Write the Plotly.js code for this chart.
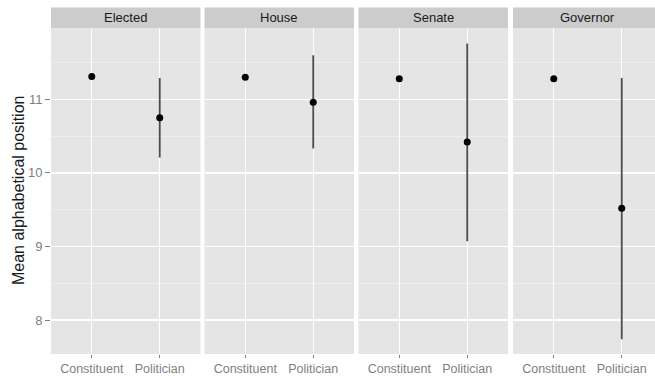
<!DOCTYPE html>
<html>
<head>
<meta charset="utf-8">
<script src="https://cdn.plot.ly/plotly-3.0.1.min.js"></script>
<style>html,body{margin:0;padding:0;background:#fff;}#chart{width:655px;height:376px;}</style>
</head>
<body>
<div id="chart"></div>
<script>
// ---- data ----
const panels = ['Elected', 'House', 'Senate', 'Governor'];
const categories = ['Constituent', 'Politician'];
const constituentMean = [11.31, 11.30, 11.28, 11.28];
const politicianMean = [10.75, 10.96, 10.42, 9.52];
const politicianLow = [10.21, 10.33, 9.07, 7.74];
const politicianHigh = [11.29, 11.60, 11.76, 11.29];
const yTicks = [8, 9, 10, 11];
const yTitle = 'Mean alphabetical position';

// ---- layout geometry ----
const W = 655, H = 376, ML = 51, MT = 28, MB = 22;
const plotW = W - ML;            // 604
const plotH = H - MT - MB;       // 326
const panelLeft = [51, 204.5, 358.5, 513];
const panelWidth = 149.5;

const traces = [];
const layout = {
  width: W, height: H,
  margin: {l: ML, r: 0, t: MT, b: MB, pad: 0},
  paper_bgcolor: '#ffffff',
  plot_bgcolor: '#E5E5E5',
  showlegend: false,
  font: {family: 'Liberation Sans, Arial, sans-serif', color: '#7F7F7F', size: 13},
  shapes: [],
  annotations: []
};

panels.forEach((p, i) => {
  const xa = i === 0 ? 'x' : 'x' + (i + 1);
  const ya = i === 0 ? 'y' : 'y' + (i + 1);
  const x0 = (panelLeft[i] - ML) / plotW;
  const x1 = Math.min(1, (panelLeft[i] + panelWidth - ML) / plotW);
  const visibleFrac = (x1 - x0) * plotW / panelWidth;
  const xKey = i === 0 ? 'xaxis' : 'xaxis' + (i + 1);
  const yKey = i === 0 ? 'yaxis' : 'yaxis' + (i + 1);

  layout[xKey] = {
    domain: [x0, x1],
    anchor: ya,
    type: 'category',
    categoryorder: 'array',
    categoryarray: categories,
    range: [-0.6, -0.6 + 2.2 * visibleFrac],
    showgrid: true, gridcolor: '#ffffff', gridwidth: 1.3,
    zeroline: false, showline: false,
    ticks: 'outside', ticklen: 3, tickwidth: 1, tickcolor: '#7F7F7F',
    tickfont: {size: 12.5, color: '#7F7F7F'},
    fixedrange: true
  };
  layout[yKey] = {
    domain: [0, 1],
    anchor: xa,
    range: [7.538, 11.969],
    tickvals: yTicks,
    ticktext: yTicks.map(String),
    showgrid: true, gridcolor: '#ffffff', gridwidth: 1.3,
    minor: {dtick: 0.5, tick0: 7.5, showgrid: true, gridcolor: '#F2F2F2', gridwidth: 0.7, ticks: ''},
    zeroline: false, showline: false,
    showticklabels: i === 0,
    ticks: i === 0 ? 'outside' : '',
    ticklen: 5, tickwidth: 1, tickcolor: '#7F7F7F',
    tickfont: {size: 13, color: '#7F7F7F'},
    fixedrange: true
  };
  if (i > 0) layout[yKey].matches = 'y';

  // politician mean with its range
  traces.push({
    type: 'scatter', mode: 'markers',
    x: [categories[1]], y: [politicianMean[i]],
    xaxis: xa, yaxis: ya,
    marker: {color: '#000000', size: 7},
    error_y: {
      type: 'data', symmetric: false,
      array: [politicianHigh[i] - politicianMean[i]],
      arrayminus: [politicianMean[i] - politicianLow[i]],
      width: 0, thickness: 1.8, color: '#4d4d4d'
    },
    hoverinfo: 'skip'
  });
  // constituent mean
  traces.push({
    type: 'scatter', mode: 'markers',
    x: [categories[0]], y: [constituentMean[i]],
    xaxis: xa, yaxis: ya,
    marker: {color: '#000000', size: 7},
    hoverinfo: 'skip'
  });

  // strip
  layout.shapes.push({
    type: 'rect', xref: 'paper', yref: 'paper',
    x0: x0, x1: x1, y0: 1, y1: 1 + (MT - 7.5) / plotH,
    fillcolor: '#CCCCCC', line: {width: 0}, layer: 'below'
  });
  const centerPx = panelLeft[i] + panelWidth / 2;
  layout.annotations.push({
    text: p, xref: 'paper', yref: 'paper',
    x: (centerPx - ML) / plotW, y: 1 + (MT - 17.5) / plotH,
    xanchor: 'center', yanchor: 'middle', showarrow: false,
    font: {size: 13, color: '#1a1a1a'}
  });
});

// y-axis title
layout.annotations.push({
  text: yTitle, xref: 'paper', yref: 'paper',
  x: (18 - ML) / plotW, y: 1 - (191 - MT) / plotH,
  xanchor: 'center', yanchor: 'middle', textangle: -90, showarrow: false,
  font: {size: 16, color: '#1a1a1a'}
});

Plotly.newPlot('chart', traces, layout, {displayModeBar: false, staticPlot: true});
</script>
</body>
</html>
